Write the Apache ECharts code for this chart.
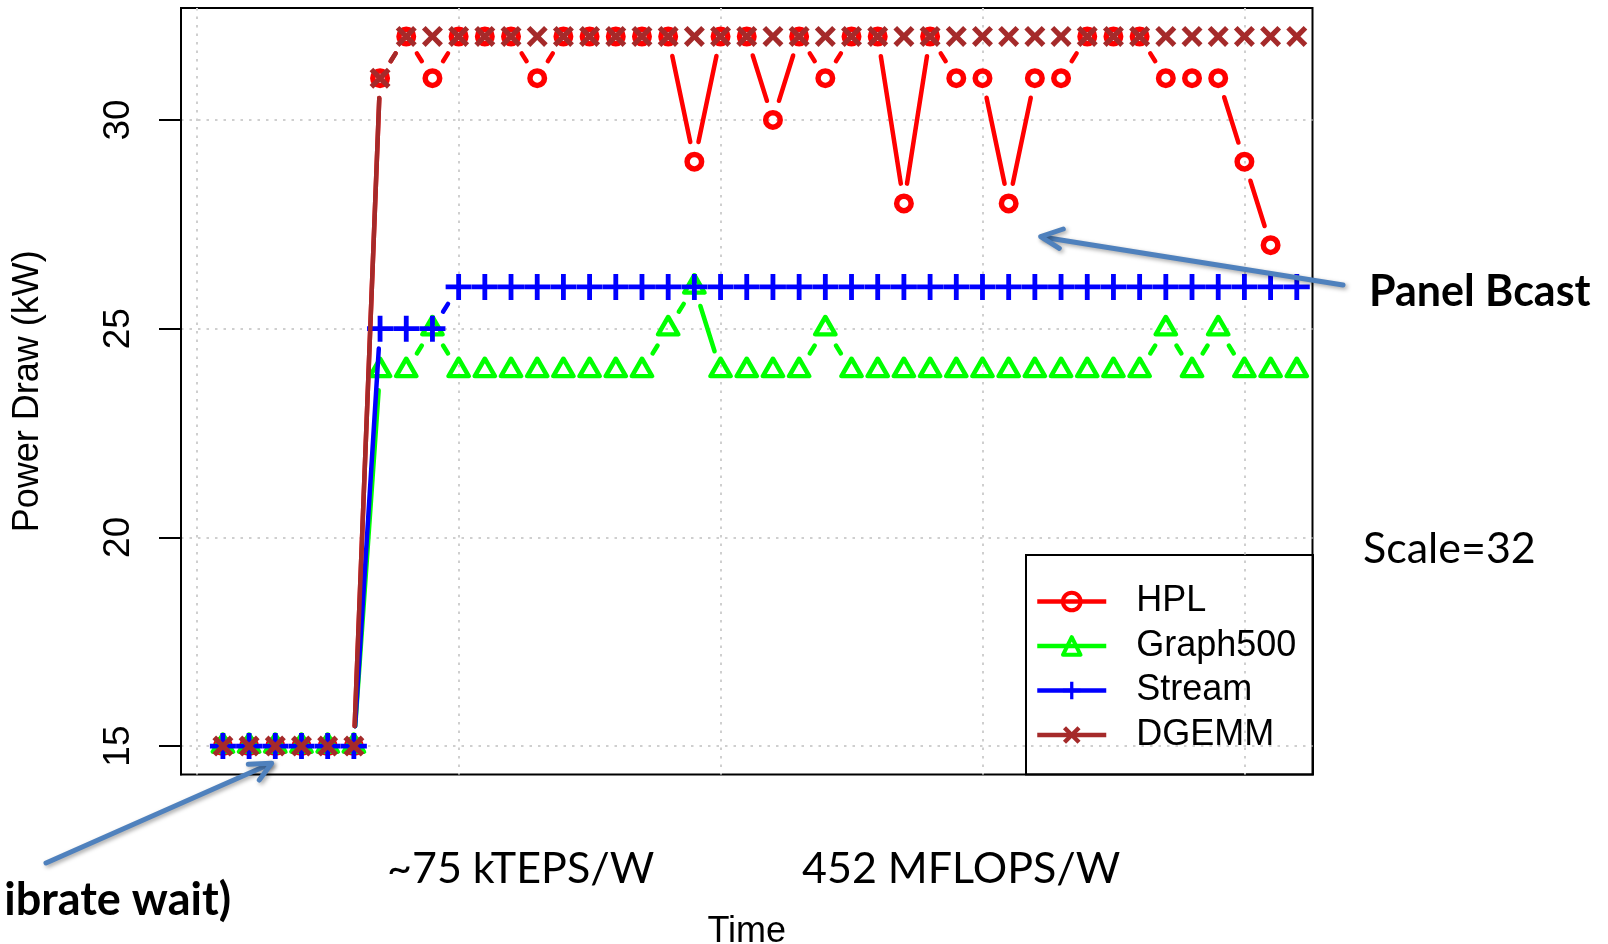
<!DOCTYPE html>
<html><head><meta charset="utf-8">
<script src="https://cdn.jsdelivr.net/npm/echarts@6/dist/echarts.min.js"></script>
<style>html,body{margin:0;padding:0;background:#fff}#c{width:1608px;height:944px}</style>
</head><body><div id="c"></div>
<script>
// ---- data ----
const seriesNames = ['HPL', 'Graph500', 'Stream', 'DGEMM'];
const hplValues = [15,15,15,15,15,15,31,32,31,32,32,32,31,32,32,32,32,32,29,32,32,30,32,31,32,32,28,32,31,31,28,31,31,32,32,32,31,31,31,29,27];
const graph500Values = [15,15,15,15,15,15,24,24,25,24,24,24,24,24,24,24,24,25,26,24,24,24,24,25,24,24,24,24,24,24,24,24,24,24,24,24,25,24,25,24,24,24,24];
const streamValues = [15,15,15,15,15,15,25,25,25,26,26,26,26,26,26,26,26,26,26,26,26,26,26,26,26,26,26,26,26,26,26,26,26,26,26,26,26,26,26,26,26,26];
const dgemmValues = [15,15,15,15,15,15,31,32,32,32,32,32,32,32,32,32,32,32,32,32,32,32,32,32,32,32,32,32,32,32,32,32,32,32,32,32,32,32,32,32,32,32];
const yTickValues = [15, 20, 25, 30];
const xGridValues = [0, 10, 20, 30, 40];

// ---- styles ----
const colors = ['#FF0000', '#00FF00', '#0000FF', '#A52A2A'];
const FONT = "'Liberation Sans', Arial, sans-serif";
const GAP = 20;
const LW = 4.5;
const PLUS = 'path://M11,0H16V11H27V16H16V27H11V16H0V11H11Z';
const CROSS = 'path://M0,3.5L3.5,0L10,6.5L16.5,0L20,3.5L13.5,10L20,16.5L16.5,20L10,13.5L3.5,20L0,16.5L6.5,10Z';
const symbolDefs = [
  {symbol: 'circle', size: 14.5, offset: [0,0], item: {color: 'rgba(0,0,0,0)', borderColor: colors[0], borderWidth: 5.5}},
  {symbol: 'triangle', size: [20, 17.5], offset: [0,-3], item: {color: 'rgba(0,0,0,0)', borderColor: colors[1], borderWidth: 4.5, borderJoin: 'round'}},
  {symbol: PLUS, size: 26, offset: [0,0], item: {color: colors[2], borderWidth: 0}},
  {symbol: CROSS, size: 21, offset: [0,0], item: {color: colors[3], borderWidth: 0}}
];
const allValues = [hplValues, graph500Values, streamValues, dgemmValues];

function segs(vals) {
  const out = [];
  for (let i = 0; i < vals.length - 1; i++) out.push([i + 1, vals[i], i + 2, vals[i + 1]]);
  return out;
}
function pts(vals) { return vals.map((v, i) => [i + 1, v]); }
function segRender(color) {
  return function (params, api) {
    const p0 = api.coord([api.value(0), api.value(1)]);
    const p1 = api.coord([api.value(2), api.value(3)]);
    const dx = p1[0] - p0[0], dy = p1[1] - p0[1];
    const L = Math.sqrt(dx * dx + dy * dy);
    if (L <= 2 * GAP) return {type: 'group', children: []};
    const ux = dx / L, uy = dy / L;
    return {type: 'line', shape: {x1: p0[0] + ux * GAP, y1: p0[1] + uy * GAP, x2: p1[0] - ux * GAP, y2: p1[1] - uy * GAP},
      style: {stroke: color, lineWidth: LW, lineCap: 'round'}};
  };
}

const series = [];
seriesNames.forEach((name, k) => {
  series.push({
    type: 'custom', name: name + ' line', data: segs(allValues[k]),
    encode: {x: [0, 2], y: [1, 3]}, renderItem: segRender(colors[k]),
    clip: true, silent: true, z: 2 + 2 * k, animation: false
  });
  const d = symbolDefs[k];
  series.push({
    type: 'line', name: name, data: pts(allValues[k]),
    symbol: d.symbol, symbolSize: d.size, symbolOffset: d.offset, showAllSymbol: true,
    lineStyle: {opacity: 0, width: 0}, itemStyle: d.item,
    clip: true, silent: true, z: 3 + 2 * k, animation: false
  });
});

const legendData = seriesNames.map((name, k) => ({
  name: name,
  itemStyle: Object.assign({}, symbolDefs[k].item, {borderWidth: k < 2 ? 4 : 0}),
  lineStyle: {color: colors[k], width: LW, opacity: 1, type: 'solid'}
}));

const gridLine = {show: true, lineStyle: {color: '#cfcfcf', width: 2, type: [2.5, 6]}};
const ARROW = '#4F81BD';
const arrowStyle = {stroke: ARROW, lineWidth: 5, lineCap: 'round', lineJoin: 'round', fill: 'none',
  shadowBlur: 4, shadowColor: 'rgba(0,0,0,0.35)', shadowOffsetX: 2, shadowOffsetY: 2};

const chart = echarts.init(document.getElementById('c'), null, {renderer: 'canvas'});
chart.setOption({
  animation: false,
  backgroundColor: '#fff',
  grid: {left: 181, top: 8, width: 1131.5, height: 766.5, show: true, borderColor: '#000', borderWidth: 2,
    backgroundColor: 'transparent', containLabel: false, outerBoundsMode: 'none'},
  xAxis: {
    type: 'value', min: -0.6, max: 42.6,
    axisLine: {show: false, onZero: false}, axisTick: {show: false, customValues: xGridValues},
    axisLabel: {show: false, customValues: xGridValues},
    splitLine: gridLine,
    name: 'Time', nameLocation: 'middle', nameGap: 140,
    nameTextStyle: {fontFamily: FONT, fontSize: 36, color: '#000'}
  },
  yAxis: {
    type: 'value', min: 14.32, max: 32.68,
    axisLine: {show: true, onZero: false, lineStyle: {color: '#000', width: 2}},
    axisTick: {show: true, length: 22, lineStyle: {color: '#000', width: 2}, customValues: yTickValues},
    axisLabel: {customValues: yTickValues, rotate: 90, fontSize: 37, fontFamily: FONT, color: '#000', margin: 44},
    splitLine: gridLine,
    name: 'Power Draw (kW)', nameLocation: 'middle', nameGap: 135, nameRotate: 90,
    nameTextStyle: {fontFamily: FONT, fontSize: 36, color: '#000'}
  },
  legend: {
    data: legendData, orient: 'vertical', left: 1035, top: 583.5, padding: 0,
    itemWidth: 69, itemHeight: 22, itemGap: 8.5, selectedMode: false,
    textStyle: {fontFamily: FONT, fontSize: 36, color: '#000', padding: [0, 0, 0, 25]}
  },
  graphic: [
    {type: 'rect', z: -1, shape: {x: 1026, y: 555, width: 287, height: 219.5}, style: {fill: '#fff', stroke: '#000', lineWidth: 2}},
    {type: 'line', z: 100, shape: {x1: 1343, y1: 285, x2: 1042, y2: 237}, style: arrowStyle},
    {type: 'polyline', z: 100, shape: {points: [[1063.3, 229], [1040.7, 236.7], [1059.3, 248.3]]}, style: arrowStyle},
    {type: 'line', z: 100, shape: {x1: 46, y1: 863, x2: 270.5, y2: 763.8}, style: arrowStyle},
    {type: 'polyline', z: 100, shape: {points: [[248.3, 764.3], [271.7, 763.3], [259.3, 780]]}, style: arrowStyle},
    {type: 'text', z: 100, style: {x: 1369, y: 292, text: 'Panel Bcast', font: "bold 43px Lato", fill: '#000', textAlign: 'left', textVerticalAlign: 'middle'}},
    {type: 'text', z: 100, style: {x: 1363, y: 549, text: 'Scale=32', font: "43px Lato", fill: '#000', textAlign: 'left', textVerticalAlign: 'middle'}},
    {type: 'text', z: 100, style: {x: 387, y: 869, text: '~75 kTEPS/W', font: "43px Lato", fill: '#000', textAlign: 'left', textVerticalAlign: 'middle'}},
    {type: 'text', z: 100, style: {x: 802, y: 869, text: '452 MFLOPS/W', font: "43px Lato", fill: '#000', textAlign: 'left', textVerticalAlign: 'middle'}},
    {type: 'text', z: 100, style: {x: 231, y: 900, text: 'ibrate wait)', font: "bold 45px Lato", fill: '#000', textAlign: 'right', textVerticalAlign: 'middle'}}
  ],
  series: series
});
</script></body></html>
